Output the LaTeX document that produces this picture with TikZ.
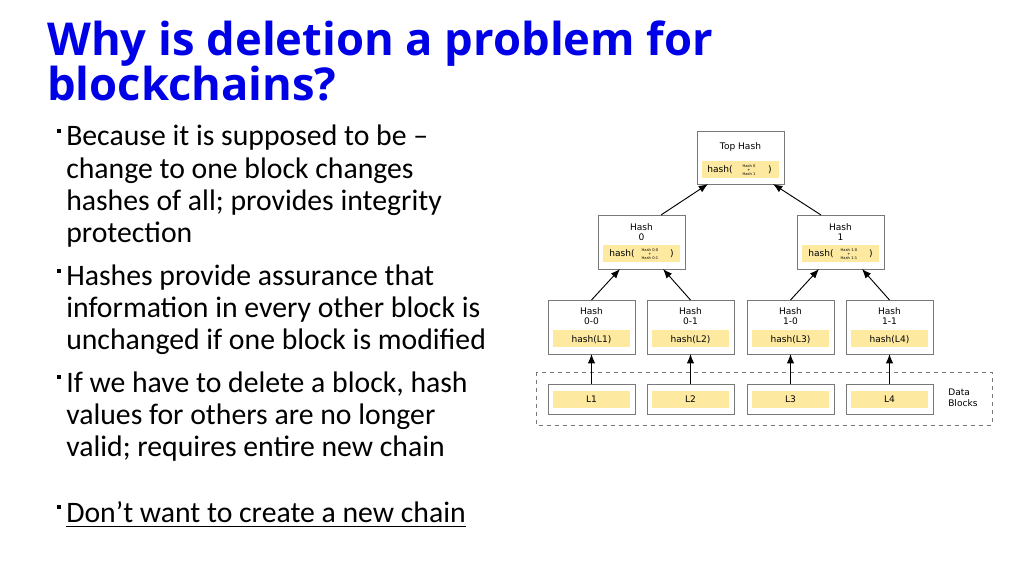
\documentclass[tikz,border=0pt]{standalone}
\usepackage{fontspec}
\usetikzlibrary{arrows.meta}
\setmainfont{Carlito}
\newfontfamily\titlefont{Open Sans}
\newfontfamily\dv{DejaVu Sans}
\definecolor{ttl}{RGB}{0,0,230}
\definecolor{ylw}{RGB}{253,234,160}
\definecolor{bx}{RGB}{120,120,120}
\begin{document}
\begin{tikzpicture}[x=0.75pt,y=-0.75pt,
  hbox/.style={draw=bx,line width=0.6pt,fill=white},
  ln/.style={anchor=base west,inner sep=0pt,font=\fontsize{22.3}{26}\selectfont},
  tl/.style={anchor=base west,inner sep=0pt,font=\titlefont\bfseries\fontsize{34}{38}\selectfont,text=ttl},
  sm/.style={font=\dv\fontsize{6.8}{8}\selectfont,align=center,inner sep=0pt},
  tiny/.style={font=\dv\fontsize{2.8}{3.2}\selectfont,align=center,inner sep=0pt},
  arr/.style={-{Latex[length=7pt,width=5.5pt]},line width=0.7pt}]
\useasboundingbox (0,0) rectangle (1024,575);
\node[tl] (t1) at (47,55) {Why is deletion a problem for};
\node[tl] (t2) at (47,100) {blockchains?};
\foreach \y in {140,280,386,516}{\fill (57,\y-11) rectangle (61,\y-7);}
\node[ln] (l1) at (66,145) {Because it is supposed to be –};
\node[ln] (l2) at (66,178) {change to one block changes};
\node[ln] (l3) at (66,210) {hashes of all; provides integrity};
\node[ln] (l4) at (66,242) {protection};
\node[ln] (l5) at (66,285) {Hashes provide assurance that};
\node[ln] (l6) at (66,317) {information in every other block is};
\node[ln] (l7) at (66,349) {unchanged if one block is modified};
\node[ln] (l8) at (66,392) {If we have to delete a block, hash};
\node[ln] (l9) at (66,424) {values for others are no longer};
\node[ln] (l10) at (66,456) {valid; requires entire new chain};
\node[ln] (l11) at (66,522) {Don’t want to create a new chain};
\draw[line width=0.9pt] ([yshift=-3.5pt]l11.base west) -- ([yshift=-3.5pt]l11.base east);
% dashed data region
\draw[bx,dashed,line width=0.6pt] (536,372) rectangle (992,425);
\node[sm,align=left,anchor=west] (db) at (948,398) {Data\\Blocks};
% top
\draw[hbox] (697,131) rectangle (784,184);
\fill[ylw] (702,161) rectangle (779,178);
\node[sm] (top) at (740.5,147) {Top Hash};
\node[sm,anchor=west] (th) at (707,170) {hash(};
\node[tiny] at (749,170) {Hash 0\\+\\Hash 1};
\node[sm] at (770,170) {)};
\coordinate (topA) at (708,184); \coordinate (topB) at (773,184);
% level 1
\foreach \x/\a/\b in {598/0-0/0-1,797/1-0/1-1}{
  \draw[hbox] (\x,215) rectangle (\x+87,269);
  \fill[ylw] (\x+5,245) rectangle (\x+82,262);
  \node[sm,anchor=west] at (\x+11,254) {hash(};
  \node[tiny] at (\x+52,254) {Hash \a\\+\\Hash \b};
  \node[sm] at (\x+74,254) {)};
}
\node[sm] (h0) at (641.5,232) {Hash\\0};
\node[sm] (h1) at (840.5,232) {Hash\\1};
% level 2 and data
\foreach \x/\lab/\i in {548/0-0/1,647/0-1/2,747/1-0/3,846/1-1/4}{
  \draw[hbox] (\x,300) rectangle (\x+87,354);
  \fill[ylw] (\x+5,330) rectangle (\x+82,347);
  \node[sm] (n\i) at (\x+43.5,316) {Hash\\\lab};
  \node[sm] (hh\i) at (\x+43.5,340) {hash(L\i)};
  \draw[hbox] (\x,384) rectangle (\x+87,414);
  \fill[ylw] (\x+5,391) rectangle (\x+82,408);
  \node[sm] (d\i) at (\x+43.5,399.5) {L\i};
  \coordinate (dt\i) at (\x+43.5,384);
  \coordinate (ht\i) at (\x+43.5,300);
  \coordinate (hb\i) at (\x+43.5,354);
}
\coordinate (h0t) at (661,215); \coordinate (h1t) at (821,215);
\coordinate (h0a) at (620,269); \coordinate (h0b) at (663,269);
\coordinate (h1a) at (819,269); \coordinate (h1b) at (862,269);
\draw[arr] (h0t) -- (topA);
\draw[arr] (h1t) -- (topB);
\draw[arr] (ht1) -- (h0a);
\draw[arr] (ht2) -- (h0b);
\draw[arr] (ht3) -- (h1a);
\draw[arr] (ht4) -- (h1b);
\foreach \i in {1,...,4}{\draw[arr] (dt\i) -- (hb\i);}
\end{tikzpicture}
\end{document}
